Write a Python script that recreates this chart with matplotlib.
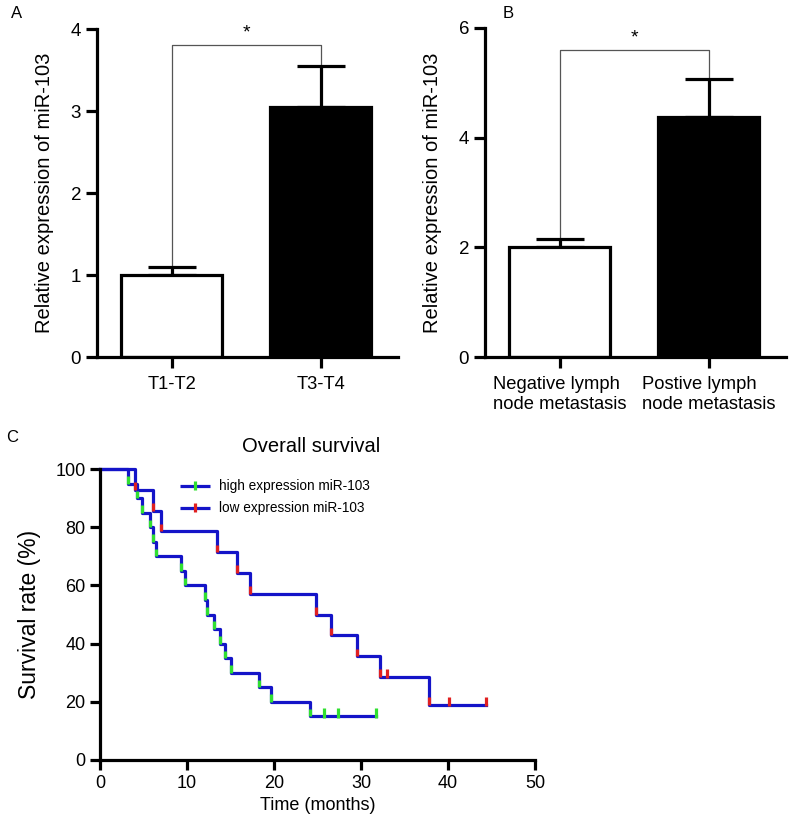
import matplotlib
matplotlib.use("Agg")
import matplotlib.pyplot as plt
import numpy as np

plt.rcParams['font.family'] = ['Liberation Sans', 'DejaVu Sans']

# ---------------- data ----------------
a_categories = ["T1-T2", "T3-T4"]
a_means = [1.0, 3.05]
a_errs = [0.10, 0.50]

b_categories = ["Negative lymph\nnode metastasis", "Postive lymph\nnode metastasis"]
b_means = [2.0, 4.37]
b_errs = [0.15, 0.70]

# Kaplan-Meier steps
high_times = [0, 3.2, 4.3, 4.8, 5.7, 6.1, 6.4, 9.3, 9.8, 12.1, 12.3, 13.1, 13.8, 14.4, 15.1, 18.3, 19.7, 24.1]
high_surv = [100, 95, 90, 85, 80, 75, 70, 65, 60, 55, 50, 45, 40, 35, 30, 25, 20, 15]
high_end = 31.7
high_censor_t = [25.8, 27.3, 31.7]
high_censor_s = [15, 15, 15]

low_times = [0, 4.0, 6.1, 7.0, 13.4, 15.8, 17.2, 24.8, 26.6, 29.5, 32.2, 37.8]
low_surv = [100, 92.9, 85.7, 78.6, 71.4, 64.3, 57.1, 50.0, 42.9, 35.7, 28.6, 19.0]
low_end = 44.4
low_censor_t = [33.0, 40.1, 44.4]
low_censor_s = [28.6, 19.0, 19.0]

# ---------------- figure ----------------
W, H = 800, 823
fig = plt.figure(figsize=(W / 100, H / 100), dpi=100)

def ax_px(left, top, right, bottom):
    return fig.add_axes([left / W, 1 - bottom / H, (right - left) / W, (bottom - top) / H])

LW = 2.3
BLUE = '#1414c8'
GREEN = '#30e030'
RED = '#e02020'

def bar_panel(ax, cats, means, errs, ymax, yticks, brk_y):
    x = np.arange(len(cats))
    ax.bar(x, means, width=0.68, color=['white', 'black'], edgecolor='black', linewidth=LW, zorder=2)
    for xi, m, e in zip(x, means, errs):
        ax.errorbar(xi, m, yerr=[[0], [e]], fmt='none', ecolor='black', elinewidth=LW,
                    capsize=17, capthick=LW, zorder=1)
    # significance bracket
    ax.plot([x[0], x[0], x[1], x[1]],
            [means[0] + errs[0], brk_y, brk_y, means[1] + errs[1]],
            color='#555555', lw=0.9, zorder=0, clip_on=False)
    ax.text((x[0] + x[1]) / 2, brk_y + ymax * 0.012, '*', ha='center', va='bottom', fontsize=14)
    ax.set_xlim(-0.5, 1.52)
    ax.set_ylim(0, ymax)
    ax.set_yticks(yticks)
    ax.set_xticks(x)
    ax.set_xticklabels(cats, multialignment='left')
    ax.tick_params(axis='both', width=LW, length=8, labelsize=13.5)
    ax.tick_params(axis='x', labelsize=13.2, pad=6)
    for s in ['top', 'right']:
        ax.spines[s].set_visible(False)
    for s in ['left', 'bottom']:
        ax.spines[s].set_linewidth(LW)
    ax.set_ylabel('Relative expression of miR-103', fontsize=14.5, labelpad=12)

# Panel A
axA = ax_px(97, 29, 398, 357)
bar_panel(axA, a_categories, a_means, a_errs, 4, [0, 1, 2, 3, 4], 3.8)
# Panel B
axB = ax_px(485, 28, 786, 357)
bar_panel(axB, b_categories, b_means, b_errs, 6, [0, 2, 4, 6], 5.6)

# Panel C
axC = ax_px(100, 469, 535, 760)

def km(ax, times, surv, end, ct, cs, mcolor):
    xs = list(times) + [end]
    ys = list(surv) + [surv[-1]]
    ax.step(xs, ys, where='post', color=BLUE, lw=LW, zorder=2, clip_on=False)
    # colored marks at the bottom of every drop
    for t, s in zip(times[1:], surv[1:]):
        ax.plot([t, t], [s, s + 2.6], color=mcolor, lw=LW, zorder=3, solid_capstyle='butt')
    for t, s in zip(ct, cs):
        ax.plot([t, t], [s - 0.4, s + 2.8], color=mcolor, lw=LW, zorder=3, solid_capstyle='butt')

km(axC, high_times, high_surv, high_end, high_censor_t, high_censor_s, GREEN)
km(axC, low_times, low_surv, low_end, low_censor_t, low_censor_s, RED)

axC.set_xlim(0, 50)
axC.set_ylim(0, 100)
axC.set_xticks([0, 10, 20, 30, 40, 50])
axC.set_yticks([0, 20, 40, 60, 80, 100])
axC.tick_params(axis='both', width=LW, length=7, labelsize=13)
for s in ['top', 'right']:
    axC.spines[s].set_visible(False)
for s in ['left', 'bottom']:
    axC.spines[s].set_linewidth(LW)
axC.set_xlabel('Time (months)', fontsize=13)
axC.set_ylabel('Survival rate (%)', fontsize=16.5, labelpad=10)
axC.text(24.3, 104.5, 'Overall survival', ha='center', va='bottom', fontsize=14.5, clip_on=False)

# legend (drawn manually in data coords)
for yy, col, lab in [(94, GREEN, 'high expression miR-103'), (86.5, RED, 'low expression miR-103')]:
    axC.plot([9.2, 12.6], [yy, yy], color=BLUE, lw=LW, solid_capstyle='butt')
    axC.plot([10.9, 10.9], [yy - 1.3, yy + 1.8], color=col, lw=LW, solid_capstyle='butt')
    axC.text(13.7, yy, lab, ha='left', va='center', fontsize=9.8)

# panel letters
fig.text(17 / W, 1 - 14 / H, 'A', ha='center', va='center', fontsize=12)
fig.text(508 / W, 1 - 14 / H, 'B', ha='center', va='center', fontsize=12)
fig.text(12 / W, 1 - 437 / H, 'C', ha='center', va='center', fontsize=12)

fig.savefig('out.png', dpi=100)
